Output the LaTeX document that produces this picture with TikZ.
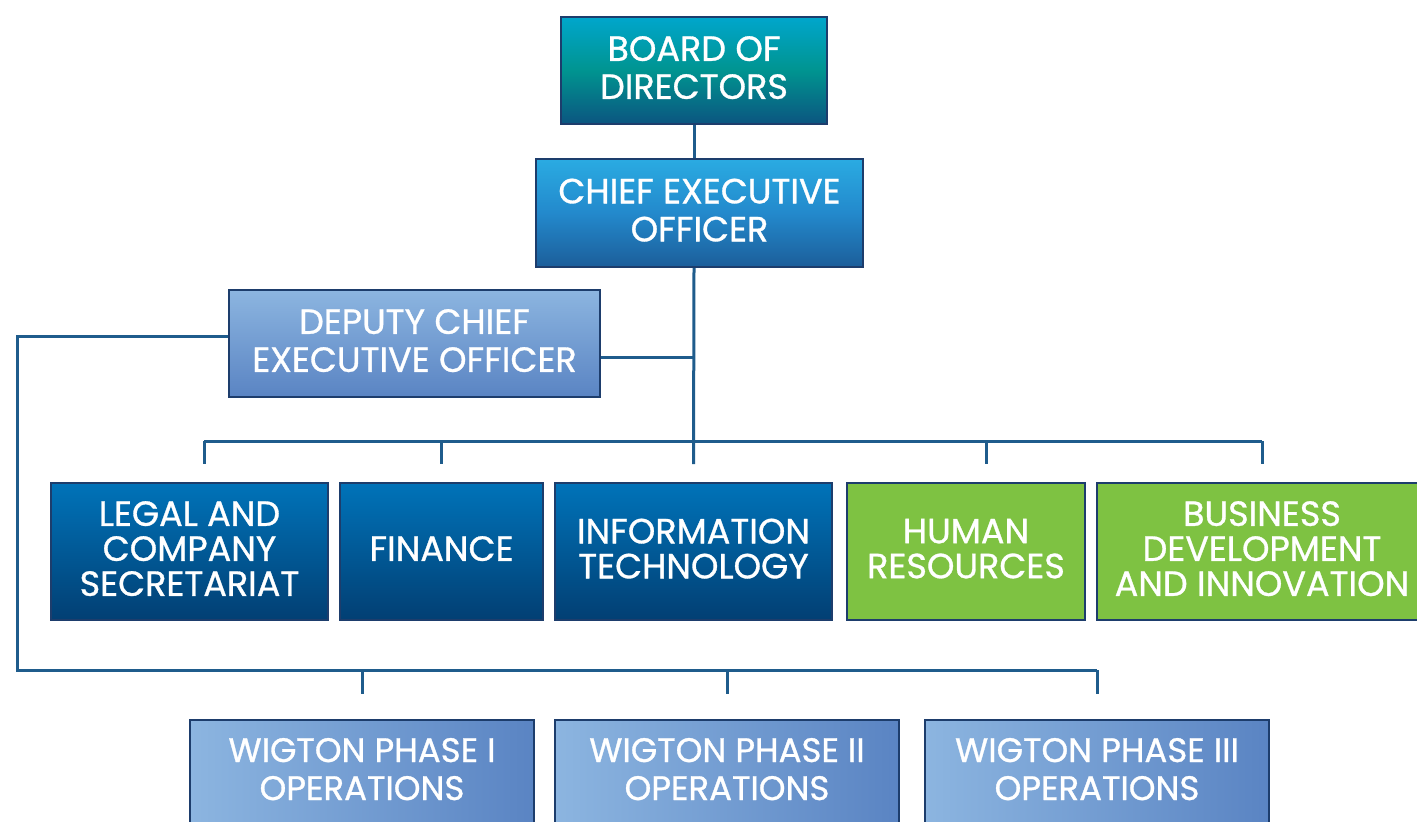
\documentclass[tikz,border=0pt]{standalone}
\usepackage{fontspec}
\setmainfont{Poppins}
\newfontfamily\chartfont[FakeBold=0.9]{Poppins}

\definecolor{linkblue}{HTML}{1F5C8C}
\definecolor{edgenavy}{HTML}{1D3D6C}
\definecolor{boardtop}{HTML}{00A6CC}
\definecolor{boardmid}{HTML}{009490}
\definecolor{boardbot}{HTML}{0B5580}
\definecolor{ceotop}{HTML}{2AABE2}
\definecolor{ceomid}{HTML}{2389CC}
\definecolor{ceobot}{HTML}{1C5E9A}
\definecolor{paletop}{HTML}{8CB5E0}
\definecolor{palebot}{HTML}{5A84C3}
\definecolor{depttop}{HTML}{0073B9}
\definecolor{deptbot}{HTML}{023F73}
\definecolor{deptgreen}{HTML}{7EC242}

\begin{document}
\begin{tikzpicture}[
    x=0.5pt, y=-0.5pt,
    unit/.style={
        rectangle,
        draw=edgenavy,
        line width=1pt,
        inner sep=0pt,
        text=white,
        align=center,
        text depth=3pt,
        font=\chartfont\fontsize{17.5}{19}\selectfont
    },
    board_box/.style={unit, top color=boardtop, bottom color=boardbot, middle color=boardmid},
    ceo_box/.style={unit, top color=ceotop, bottom color=ceobot, middle color=ceomid},
    deputy_box/.style={unit, top color=paletop, bottom color=palebot},
    dept_box/.style={unit, top color=depttop, bottom color=deptbot, minimum height=68.5pt, font=\chartfont\fontsize{17.5}{17.5}\selectfont},
    green_box/.style={unit, fill=deptgreen, minimum height=68.5pt, font=\chartfont\fontsize{17.5}{17.5}\selectfont},
    ops_box/.style={unit, left color=paletop, right color=palebot, minimum width=172pt, minimum height=55pt, text depth=6pt, font=\chartfont\fontsize{17}{19}\selectfont},
    link/.style={draw=linkblue, line width=1.5pt}
]
    \clip (0,0) rectangle (1417,821);
    \fill[white] (0,0) rectangle (1417,821);

    % top of the chart
    \node[board_box, minimum width=133pt, minimum height=53.5pt] (board) at (694,70.5) {BOARD OF\\DIRECTORS};
    \node[ceo_box, minimum width=163.5pt, minimum height=54pt] (ceo) at (699.5,213) {CHIEF EXECUTIVE\\OFFICER};
    \node[deputy_box, minimum width=185.5pt, minimum height=53.5pt] (deputy) at (414.5,343.5) {DEPUTY CHIEF\\EXECUTIVE OFFICER};

    % departments
    \node[dept_box, minimum width=138.5pt] (legal) at (189.5,551.5) {LEGAL AND\\COMPANY\\SECRETARIAT};
    \node[dept_box, minimum width=101.5pt] (finance) at (441.5,551.5) {FINANCE};
    \node[dept_box, minimum width=138.5pt] (it) at (693.5,551.5) {INFORMATION\\TECHNOLOGY};
    \node[green_box, minimum width=119pt] (hr) at (966,551.5) {HUMAN\\RESOURCES};
    \node[green_box, minimum width=165pt] (bd) at (1262,551.5) {BUSINESS\\DEVELOPMENT\\AND INNOVATION};

    % operations
    \node[ops_box] (ops1) at (362,775) {WIGTON PHASE I\\OPERATIONS};
    \node[ops_box] (ops2) at (727,775) {WIGTON PHASE II\\OPERATIONS};
    \node[ops_box] (ops3) at (1097,775) {WIGTON PHASE III\\OPERATIONS};

    \coordinate (bus) at (694,441);
    \coordinate (opsleft) at (17,670);

    % trunk
    \draw[link] (board.south) -- (board.south |- ceo.north);
    \draw[link] (board.south |- ceo.south) -- ([yshift=9pt]it.north);
    \draw[link] ([yshift=-6.75pt]deputy.east) -- ([yshift=-6.75pt]deputy.east -| board.south);

    % department bus
    \draw[link] ([xshift=7.25pt]legal.north |- bus) -- (bd.north |- bus);
    \foreach \n/\dx in {legal/7.25pt, finance/0pt, hr/10pt, bd/0pt}
        \draw[link] ([xshift=\dx]\n.north |- bus) -- ([xshift=\dx, yshift=9pt]\n.north);

    % operations bus
    \draw[link] ([yshift=3.75pt]deputy.west) -| (opsleft) -- (opsleft -| ops3.north);
    \foreach \n in {ops1, ops2, ops3}
        \draw[link] (\n.north |- opsleft) -- ([yshift=12.5pt]\n.north);

\end{tikzpicture}
\end{document}
